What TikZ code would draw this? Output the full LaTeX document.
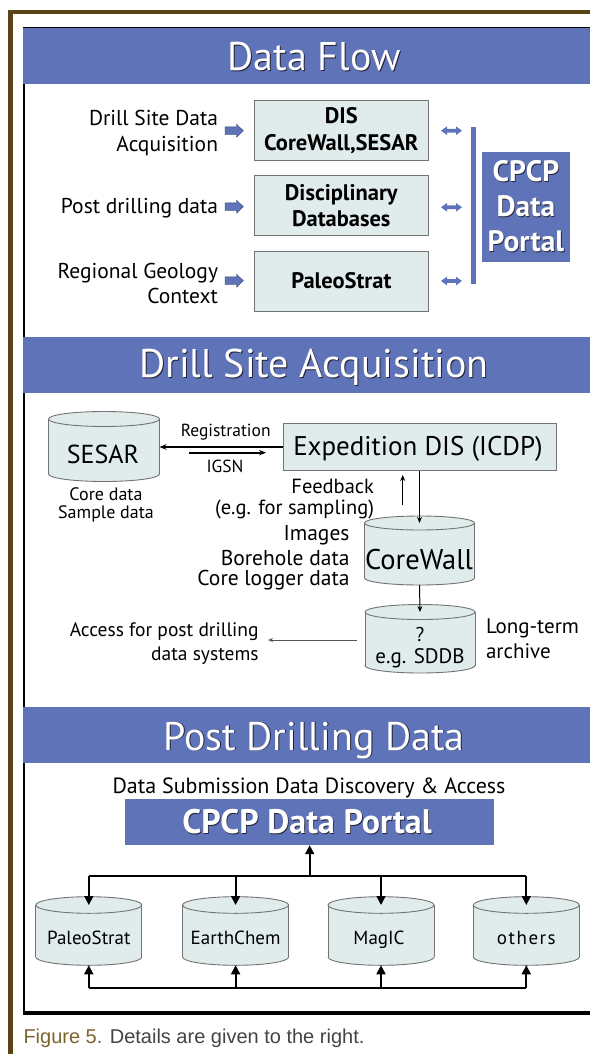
\documentclass[tikz,border=0pt]{standalone}
\usepackage{fontspec}
\setmainfont{PT Sans}
\newfontfamily\capfont{Liberation Sans}
\usetikzlibrary{arrows.meta}
\definecolor{hdrblue}{RGB}{94,115,184}
\definecolor{boxfill}{RGB}{224,236,236}
\definecolor{boxline}{RGB}{115,115,115}
\definecolor{brownb}{RGB}{88,68,22}
\definecolor{capbrown}{RGB}{125,100,45}
\definecolor{capgray}{RGB}{68,68,68}
\definecolor{shadowc}{RGB}{35,35,55}
\definecolor{accgray}{RGB}{85,85,85}
\newcommand\fs[1]{\fontsize{#1}{#1}\selectfont}
\tikzset{
  txt/.style={inner sep=0pt, outer sep=0pt, anchor=base},
  txtr/.style={txt, anchor=base east},
  txtl/.style={txt, anchor=base west},
  ttl/.style={txt, text=white, font=\fs{40}},
  ttlsh/.style={txt, text=shadowc, font=\fs{40}},
  lbox/.style={draw=boxline, fill=boxfill, line width=0.9pt, inner sep=0pt},
  bbox/.style={fill=hdrblue, inner sep=0pt},
  cylline/.style={draw=boxline, line width=0.9pt},
  tarr/.style={-{Stealth[length=6pt,width=5pt]}, line width=1pt},
  karr/.style={-{Triangle[length=9pt,width=9pt]}, line width=1.8pt},
  kline/.style={line width=1.8pt},
  blk/.style={fill=hdrblue, draw=hdrblue!60!black, line width=0.4pt},
}
\newcommand\dbcyl[6]{%
  \fill[boxfill] (#2-#5,#3) rectangle (#2+#5,#4);
  \fill[boxfill] (#2,#4) ellipse [x radius=#5, y radius=#6];
  \begin{scope}
    \clip (#2-#5-2,#4) rectangle (#2+#5+2,#4+#6+2);
    \draw[cylline] (#2,#4) ellipse [x radius=#5, y radius=#6];
  \end{scope}
  \draw[cylline] (#2-#5,#3) -- (#2-#5,#4) (#2+#5,#3) -- (#2+#5,#4);
  \draw[cylline, fill=boxfill] (#2,#3) ellipse [x radius=#5, y radius=#6];
  \node[inner sep=0pt, outer sep=0pt, minimum width={2*#5}, minimum height={#4+#6-#3}] (#1) at (#2,{(#3+#4+#6)/2}) {};
}
\newcommand\blockarrow[2]{%
  \filldraw[blk] (#1,#2-3.8) -- (#1+11.5,#2-3.8) -- (#1+11.5,#2-6.5) -- (#1+18.3,#2) -- (#1+11.5,#2+6.5) -- (#1+11.5,#2+3.8) -- (#1,#2+3.8) -- cycle;}
\newcommand\dblarrow[2]{%
  \fill[hdrblue] (#1,#2) -- (#1+6,#2-4.3) -- (#1+6,#2-1.9) -- (#1+15,#2-1.9) -- (#1+15,#2-4.3) -- (#1+21,#2) -- (#1+15,#2+4.3) -- (#1+15,#2+1.9) -- (#1+6,#2+1.9) -- (#1+6,#2+4.3) -- cycle;}
\begin{document}
\begin{tikzpicture}[x=1pt,y=-1pt]
\useasboundingbox (0,0) rectangle (590,1054);
\fill[white] (0,0) rectangle (590,1054);
% outer brown frame
\fill[brownb] (8,10) rectangle (13,1054);
\fill[brownb] (8,10) rectangle (590,14);
% inner black frame
\draw[line width=2.6pt] (23.9,27) -- (23.9,1013.3);
\draw[line width=4pt] (22.6,1013.3) -- (590,1013.3);
\draw[line width=1.4pt] (22.6,27.3) -- (590,27.3);
% headers
\fill[hdrblue] (22.6,28) rectangle (590,84);
\fill[hdrblue] (22.6,337.3) rectangle (590,393.3);
\fill[hdrblue] (22.6,707.3) rectangle (590,763.3);
\node[ttlsh] (t1s) at (315,71.8) {Data Flow};
\node[ttl] (t1) at (314,71) {Data Flow};
\node[ttlsh] (t2s) at (315,378.3) {Drill Site Acquisition};
\node[ttl] (t2) at (314,377.5) {Drill Site Acquisition};
\node[ttlsh] (t3s) at (315,750.8) {Post Drilling Data};
\node[ttl] (t3) at (314,750) {Post Drilling Data};

% ---------- Data Flow ----------
\node[txtr, font=\fs{21.5}] (l1a) at (218,125) {Drill Site Data};
\node[txtr, font=\fs{21.5}] (l1b) at (218,151.7) {Acquisition};
\node[txtr, font=\fs{21.5}] (l2) at (218,213.3) {Post drilling data};
\node[txtr, font=\fs{21.5}] (l3a) at (218,278.3) {Regional Geology};
\node[txtr, font=\fs{21.5}] (l3b) at (218,303.3) {Context};
\blockarrow{225}{130.7}
\blockarrow{225}{206.7}
\blockarrow{225}{280.7}
\node[lbox, minimum width=174.7, minimum height=60] (b1) at (341.3,130) {};
\node[lbox, minimum width=174.7, minimum height=60] (b2) at (341.3,205.3) {};
\node[lbox, minimum width=174.7, minimum height=59.3] (b3) at (341.3,281.3) {};
\node[txt, font=\bfseries\fs{22.5}] (b1a) at (341.3,124) {DIS};
\node[txt, font=\bfseries\fs{22.5}] (b1b) at (341.3,150) {CoreWall,SESAR};
\node[txt, font=\bfseries\fs{22.5}] (b2a) at (341.3,200) {Disciplinary};
\node[txt, font=\bfseries\fs{22.5}] (b2b) at (341.3,226.7) {Databases};
\node[txt, font=\bfseries\fs{22.5}] (b3a) at (341.3,288.3) {PaleoStrat};
\dblarrow{441}{130.7}
\dblarrow{441}{207.3}
\dblarrow{441}{281}
\node[bbox, minimum width=5.3, minimum height=156.7] (bar) at (473.35,205.65) {};
\node[bbox, minimum width=88.3, minimum height=110] (pt1) at (525.9,207.3) {};
\foreach \t/\y/\n in {CPCP/181.7/pa, Data/216.7/pb, Portal/251.7/pc}{
  \node[txt, text=shadowc, font=\bfseries\fs{29.5}] (\n s) at (526.7,\y+0.8) {\t};
  \node[txt, text=white, font=\bfseries\fs{29.5}] (\n) at (525.9,\y) {\t};
}

% ---------- Drill Site Acquisition ----------
\dbcyl{sesar}{104}{419}{474}{55.5}{7.5}
\node[txt, font=\fs{26}] (sesart) at (103,463.3) {SESAR};
\node[txt, font=\fs{18}] (sd1) at (106,500.7) {Core data};
\node[txt, font=\fs{18}] (sd2) at (106,518.3) {Sample data};
\node[lbox, minimum width=272.7, minimum height=47.4] (dis) at (419.65,447) {};
\node[txt, font=\fs{27}] (dist) at (418,455.5) {Expedition DIS (ICDP)};
\draw[line width=1.3pt, -{Stealth[length=7pt,width=5.5pt]}] (dis.west) -- (dis.west -| sesar.east);
\node[txt, font=\fs{17.5}] (reg) at (225.7,436) {Registration};
\coordinate (igA) at (189.3,452.7);
\coordinate (igB) at (266,452.7);
\draw[line width=2pt, -{Stealth[length=7pt,width=5.5pt]}] (igA) -- (igB);
\node[txt, font=\fs{17.5}] (igsn) at (225,472.7) {IGSN};
\dbcyl{cw}{419.5}{523}{578}{55}{7}
\draw[tarr] (dis.south -| cw.north) -- (cw.north);
\coordinate (fbA) at (402.7,505);
\coordinate (fbB) at (402.7,475);
\draw[tarr] (fbA) -- (fbB);
\node[txtr, font=\fs{20.5}] (fb1) at (374,493.5) {Feedback};
\node[txtr, font=\fs{20.5}] (fb2) at (374,514) {(e.g. for sampling)};
\node[txt, font=\fs{28.5}] (cwt) at (419,569) {CoreWall};
\node[txtr, font=\fs{21.5}] (im1) at (349.5,540) {Images};
\node[txtr, font=\fs{21.5}] (im2) at (349.5,565) {Borehole data};
\node[txtr, font=\fs{21.5}] (im3) at (349.5,585) {Core logger data};
\dbcyl{q}{420}{612}{665.5}{55}{7.5}
\draw[tarr] (cw.south) -- (q.north);
\node[txt, font=\fs{20}] (qm) at (420,641.7) {?};
\node[txt, font=\fs{21}] (sddb) at (420,663.3) {e.g. SDDB};
\node[txtl, font=\fs{21}] (lt1) at (486,633.3) {Long-term};
\node[txtl, font=\fs{21}] (lt2) at (486,658.3) {archive};
\node[txtr, font=\fs{19.5}] (ac1) at (258.6,636.7) {Access for post drilling};
\node[txtr, font=\fs{19.5}] (ac2) at (258.6,660) {data systems};
\coordinate (accA) at (356.8,640);
\coordinate (accB) at (268,640);
\draw[accgray, line width=0.9pt, -{Stealth[length=5pt,width=4pt]}] (accA) -- (accB);

% ---------- Post Drilling Data ----------
\node[txt, font=\fs{22}] (sub) at (309,793.3) {Data Submission Data Discovery \& Access};
\node[bbox, minimum width=368.8, minimum height=45.7] (portal) at (309.4,822.15) {};
\node[txt, text=shadowc, font=\bfseries\fs{34}] (portsh) at (307.8,834.1) {CPCP Data Portal};
\node[txt, text=white, font=\bfseries\fs{34}] (portt) at (307,833.3) {CPCP Data Portal};
\dbcyl{c1}{88.8}{905}{957}{53}{8.3}
\dbcyl{c2}{235.6}{905}{957}{53}{8.3}
\dbcyl{c3}{381}{905}{957}{53}{8.3}
\dbcyl{c4}{526.3}{905}{957}{53}{8.3}
\node[txt, font=\fs{19}] (c1t) at (88.8,944) {PaleoStrat};
\node[txt, font=\fs{19}] (c2t) at (235.6,944) {EarthChem};
\node[txt, font=\fs{19}] (c3t) at (379,944) {MagIC};
\node[txt, font=\addfontfeature{LetterSpace=8}\fs{19}] (c4t) at (526.3,944) {others};
\coordinate (jt) at (309.7,876);
\coordinate (jb) at (309.7,988.3);
\draw[karr] (jt) -- (jt |- portal.south);
\draw[kline] (c1.north |- jt) -- (c4.north |- jt);
\draw[kline] (c1.south |- jb) -- (c4.south |- jb);
\foreach \c in {c1,c2,c3,c4}{
  \draw[karr] (\c.north |- jt) -- (\c.north);
  \draw[karr] (\c.south |- jb) -- (\c.south);
}
\node[txtl, font=\capfont\fs{20}] (cap) at (23.5,1043.3) {\textcolor{capbrown}{Figure 5.} \textcolor{capgray}{Details are given to the right.}};
\end{tikzpicture}
\end{document}
